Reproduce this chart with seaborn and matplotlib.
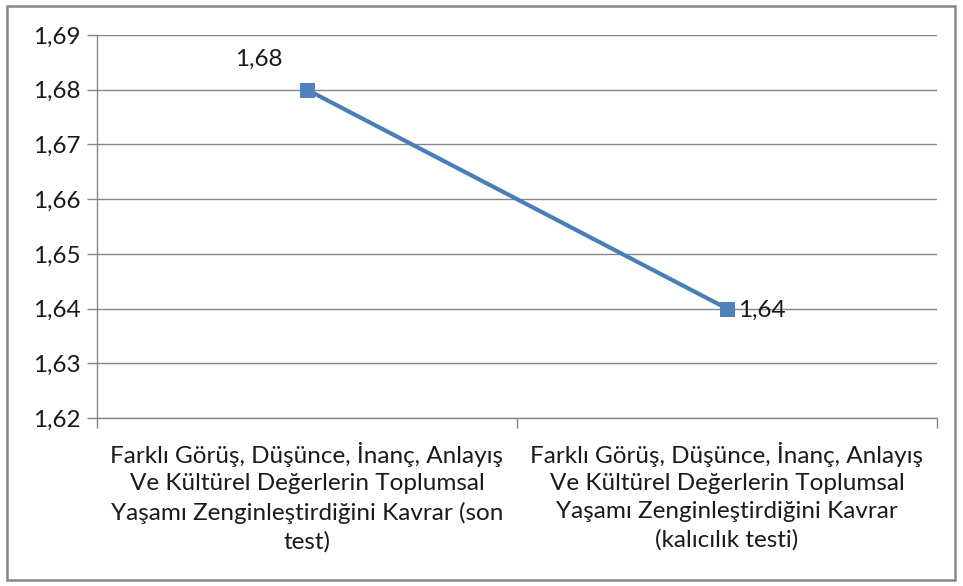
import numpy as np
import pandas as pd
import matplotlib
matplotlib.use("Agg")
import matplotlib.pyplot as plt
from matplotlib.patches import Rectangle
from matplotlib.ticker import FixedLocator, FuncFormatter
import seaborn as sns

# Data
categories = [
    "Farklı Görüş, Düşünce, İnanç, Anlayış\nVe Kültürel Değerlerin Toplumsal\nYaşamı Zenginleştirdiğini Kavrar (son\ntest)",
    "Farklı Görüş, Düşünce, İnanç, Anlayış\nVe Kültürel Değerlerin Toplumsal\nYaşamı Zenginleştirdiğini Kavrar\n(kalıcılık testi)",
]
values = [1.68, 1.64]
y_ticks = [1.62, 1.63, 1.64, 1.65, 1.66, 1.67, 1.68, 1.69]

df = pd.DataFrame({"Kategori": categories, "Deger": values})

sns.set_style("white")
plt.rcParams["font.family"] = ["Lato", "DejaVu Sans"]

grey = "#868686"
blue = "#4A7EBB"
txt = "#1a1a1a"
fs = 17.5

fig = plt.figure(figsize=(9.63, 5.86), dpi=100)
ax = fig.add_axes([0.1007, 0.2867, 0.8723, 0.6536])

sns.lineplot(data=df, x="Kategori", y="Deger", ax=ax, color=blue, linewidth=3,
             marker="s", markersize=10, markerfacecolor="#4F81BD",
             markeredgecolor="#4F81BD", sort=False)

ax.set_xlim(-0.5, len(categories) - 0.5)
ax.set_ylim(y_ticks[0], y_ticks[-1])
ax.set_yticks(y_ticks)
ax.yaxis.set_major_formatter(FuncFormatter(lambda v, p: f"{v:.2f}".replace(".", ",")))
ax.yaxis.grid(True, color=grey, linewidth=1)
ax.xaxis.grid(False)
ax.set_axisbelow(True)

ax.set_xticks(range(len(categories)))
ax.set_xticklabels(categories, fontsize=fs, color=txt, linespacing=1.4)
ax.xaxis.set_minor_locator(FixedLocator(np.arange(-0.5, len(categories), 1.0)))
ax.tick_params(axis="x", which="major", length=0, pad=17)
ax.tick_params(axis="x", which="minor", length=7, color=grey, width=1, direction="out", bottom=True)
ax.tick_params(axis="y", length=7, color=grey, width=1, direction="out", left=True,
               labelsize=fs, labelcolor=txt, pad=5)
ax.set_xlabel("")
ax.set_ylabel("")

for side in ["top", "right"]:
    ax.spines[side].set_visible(False)
for side in ["left", "bottom"]:
    ax.spines[side].set_color(grey)
    ax.spines[side].set_linewidth(1)

# data labels
ax.annotate(f"{values[0]:.2f}".replace(".", ","), (0, values[0]), xytext=(-35, 22),
            textcoords="offset points", ha="center", va="center", fontsize=fs, color=txt)
ax.annotate(f"{values[1]:.2f}".replace(".", ","), (1, values[1]), xytext=(8, -1),
            textcoords="offset points", ha="left", va="center", fontsize=fs, color=txt)

# outer chart border
fig.patches.append(Rectangle((7 / 963, 6 / 586), 948 / 963, 574 / 586, transform=fig.transFigure,
                             fill=False, edgecolor=grey, linewidth=1.8))

fig.savefig("out.png", dpi=100)
